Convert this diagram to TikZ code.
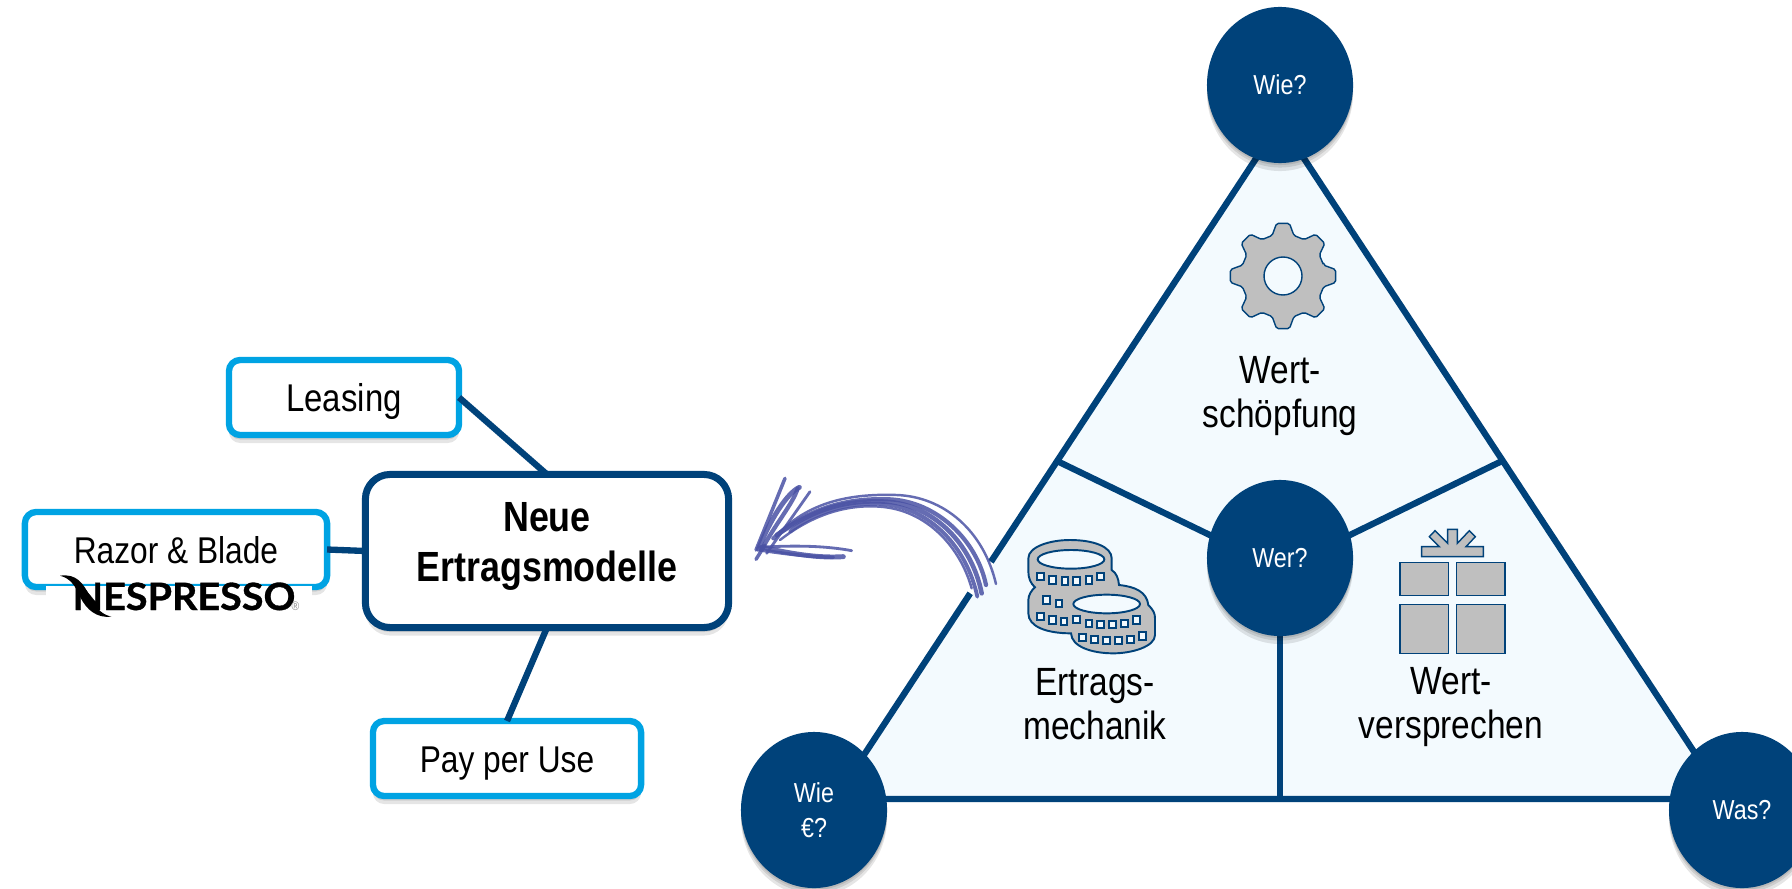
\documentclass[tikz,border=0pt]{standalone}
\usepackage{fontspec}
\usepackage{xcolor}
\usepackage{tikz}
\usetikzlibrary{shapes.geometric,shadows}
\setmainfont[FakeStretch=0.85]{Liberation Sans}
\newfontfamily\logofont[FakeStretch=1.05,FakeBold=0.8]{Lato}

\definecolor{darkblue}{HTML}{00427A}
\definecolor{lightblue}{HTML}{00A3E3}
\definecolor{palefill}{HTML}{F3FAFE}
\definecolor{icongray}{HTML}{BFBFBF}
\definecolor{sketchblue}{HTML}{4A52A4}

\tikzset{
  softshadow/.style={
    general shadow={shadow xshift=0pt, shadow yshift=-0.2mm, fill=black, opacity=0.1},
    general shadow={shadow xshift=0pt, shadow yshift=-0.45mm, fill=black, opacity=0.1},
    general shadow={shadow xshift=0pt, shadow yshift=-0.8mm, fill=black, opacity=0.1}},
  leafbox/.style={draw=lightblue, fill=white, line width=1.8pt, rounded corners=3.2pt, outer sep=0pt,
    minimum width=#1, minimum height=0.75cm, font=\fontsize{11}{12.6}\selectfont, align=center,
    text height=10pt, text depth=2.1pt, softshadow},
  mainbox/.style={draw=darkblue, fill=white, line width=2pt, rounded corners=7pt, outer sep=0pt,
    minimum width=3.63cm, minimum height=1.53cm, font=\fontsize{12}{14.4}\selectfont\bfseries, align=center,
    text depth=5.2pt, softshadow},
  linkline/.style={draw=darkblue, line width=1.8pt},
  askdot/.style={ellipse, fill=darkblue, text=white, inner sep=0pt, outer sep=0pt, minimum width=1.46cm,
    minimum height=1.56cm, font=\fontsize{7.8}{10}\selectfont, align=center, softshadow},
  fieldtext/.style={font=\fontsize{11.2}{12.4}\selectfont, align=center, inner sep=0pt},
  iconline/.style={draw=darkblue, line width=0.4pt, fill=icongray},
  sketchline/.style={draw=sketchblue, opacity=0.85, line cap=round}
}

\begin{document}
\begin{tikzpicture}[x=0.01cm, y=-0.01cm]
  \useasboundingbox (0, 0) rectangle (1792, 888);
  \clip (0, 0) rectangle (1792, 888);

  \coordinate (apex) at (1280, 122);
  \coordinate (baseL) at (835, 799);
  \coordinate (baseR) at (1725, 799);
  \coordinate (jointL) at (1057, 461);
  \coordinate (jointR) at (1502, 461);
  \coordinate (hub) at (1280, 569);
  \coordinate (foot) at (1280, 799);
  \coordinate (gapA) at (991, 562);
  \coordinate (gapB) at (970, 593);

  \draw[linkline, fill=palefill] (apex) -- (baseR) -- (baseL) -- cycle;
  \draw[linkline] (jointL) -- (hub) -- (jointR);
  \draw[linkline] (hub) -- (foot);
  \draw[white, line width=2.2pt] (gapA) -- (gapB);

  \node[askdot] (wie) at (1280, 85) {Wie?};
  \node[askdot] (wer) at (1280, 558) {Wer?};
  \node[askdot] (wieeuro) at (814, 810) {Wie\\€?};
  \node[askdot] (was) at (1742, 810) {Was?};

  \node[fieldtext] (schoepfung) at (1280, 396) {Wert-\\schöpfung};
  \node[fieldtext] (mechanik) at (1095, 704) {Ertrags-\\mechanik};
  \node[fieldtext] (versprechen) at (1451, 707) {Wert-\\versprechen};

  \begin{scope}[shift={(1283, 276)}]
    \draw[iconline, even odd rule, rounded corners=0.5pt] (-15:42)
      \foreach \a in {0,45,...,315} { -- (\a-15:42) -- (\a-7:53) -- (\a+7:53) -- (\a+15:42) } -- cycle
      (0, 0) circle (19);
  \end{scope}

  \begin{scope}[shift={(1180, 180)}, scale=1/3]
    \draw[iconline] (725,1100) -- (778,1100) -- (748,1070) -- (765,1052) -- (803,1090) -- (803,1048) -- (832,1048)
      -- (832,1090) -- (868,1052) -- (886,1070) -- (858,1100) -- (910,1100) -- (910,1130) -- (725,1130) -- cycle;
    \draw[iconline] (660,1147) rectangle (805,1247);
    \draw[iconline] (830,1147) rectangle (975,1247);
    \draw[iconline] (660,1273) rectangle (805,1420);
    \draw[iconline] (830,1273) rectangle (975,1420);
  \end{scope}

  \begin{scope}[shift={(1010, 525)}, scale=1/3]
    \draw[iconline, line width=0.55pt] (55,100) .. controls (55,65) and (120,45) .. (180,45) .. controls (250,45) and (305,65) .. (305,100)
      -- (305,135) .. controls (320,145) and (325,160) .. (327,180) .. controls (375,185) and (410,200) .. (415,240)
      .. controls (430,255) and (435,265) .. (435,280) -- (435,330) .. controls (435,365) and (365,385) .. (310,385)
      .. controls (245,385) and (185,365) .. (183,325) .. controls (110,325) and (55,305) .. (55,265) -- (55,225)
      .. controls (55,210) and (65,195) .. (75,187) .. controls (62,175) and (55,160) .. (55,140) -- cycle;
    \draw[iconline, line width=0.55pt, fill=palefill] (183,103) ellipse (100 and 28);
    \draw[iconline, line width=0.55pt, fill=palefill] (290,237) ellipse (100 and 28);
    \foreach \cx/\cy in {92/155,128/165,165/168,200/168,237/165,272/155,110/225,147/235,92/275,128/285,162/290,
      200/283,237/295,272/298,308/298,344/295,380/285,218/337,254/344,290/347,326/347,362/344,398/333}
      \draw[iconline, line width=0.55pt, fill=palefill] (\cx, \cy) +(-10,-11) rectangle +(10,11);
  \end{scope}

  \node[mainbox] (main) at (547, 551) {Neue\\Ertragsmodelle};
  \node[leafbox=2.3cm] (leasing) at (344, 397.5) {Leasing};
  \node[leafbox=3.02cm, font=\fontsize{10.6}{12.6}\selectfont] (razor) at (176, 549.5) {Razor \& Blade};
  \node[leafbox=2.68cm, font=\fontsize{10.6}{12.6}\selectfont] (payuse) at (507, 758.5) {Pay per Use};

  \draw[linkline] (leasing.east) -- (main.north);
  \draw[linkline] (razor.east) -- (main.west);
  \draw[linkline] (main.south) -- (payuse.north);

  \fill[white] (46, 586) rectangle (312, 622);
  \node[inner sep=0pt, anchor=base west, font=\fontsize{10.7}{12}\logofont\bfseries] (logo) at (72, 610) {NESPRESSO};
  \node[inner sep=0pt, anchor=base west, text=black!45, font=\fontsize{3.5}{4}\selectfont] (logomark) at (291, 610) {®};
  \begin{scope}[shift={(40, 560)}, scale=1/3]
    \fill[black] (60,47) .. controls (110,40) and (130,70) .. (150,110) .. controls (170,150) and (190,165) .. (215,170)
      .. controls (170,175) and (140,150) .. (120,110) .. controls (105,75) and (90,55) .. (60,47);
  \end{scope}

  \begin{scope}[shift={(730, 460)}, scale=1/3]
    \draw[sketchline, line width=0.7pt] (798,372) .. controls (760,210) and (640,110) .. (500,105) .. controls (350,100) and (240,130) .. (150,215);
    \draw[sketchline, line width=1.2pt] (768,375) .. controls (740,240) and (620,125) .. (480,118) .. controls (340,112) and (230,150) .. (130,235);
    \draw[sketchline, line width=1.3pt] (755,400) .. controls (725,250) and (610,135) .. (470,125) .. controls (340,118) and (250,150) .. (140,225);
    \draw[sketchline, line width=1.1pt] (742,410) .. controls (710,260) and (600,145) .. (460,132) .. controls (340,125) and (240,165) .. (180,215);
    \draw[sketchline, line width=0.7pt] (725,385) .. controls (690,260) and (590,150) .. (450,140) .. controls (340,132) and (240,170) .. (150,240);
    \draw[sketchline, line width=1pt] (165,55) -- (78,270);
    \draw[sketchline, line width=1.4pt] (208,82) .. controls (170,100) and (120,180) .. (85,268);
    \draw[sketchline, line width=1.2pt] (203,85) .. controls (190,130) and (130,200) .. (95,270);
    \draw[sketchline, line width=0.8pt] (240,95) -- (110,280);
    \draw[sketchline, line width=1pt] (78,298) -- (105,255);
    \draw[sketchline, line width=0.8pt] (365,272) .. controls (290,258) and (200,255) .. (85,262);
    \draw[sketchline, line width=1.4pt] (340,290) .. controls (260,295) and (180,280) .. (95,262);
    \draw[sketchline, line width=1pt] (310,292) .. controls (230,290) and (160,280) .. (90,270);
  \end{scope}
\end{tikzpicture}
\end{document}
